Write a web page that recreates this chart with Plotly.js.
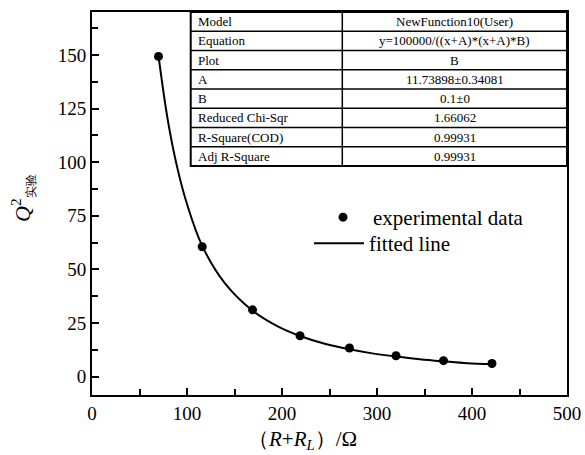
<!DOCTYPE html>
<html><head><meta charset="utf-8">
<script src="https://cdn.plot.ly/plotly-3.0.1.min.js"></script>
<style>html,body{margin:0;padding:0;background:#fff}#chart{width:585px;height:455px}</style>
</head><body><div id="chart"></div>
<script>
const xData = [70, 116, 169, 219, 271, 320, 370, 421];
const yData = [149.3, 60.6, 31.2, 19.1, 13.4, 9.8, 7.5, 6.2];
// fitted curve
const xFit = [70, 80, 90, 100, 116, 140, 169, 195, 219, 245, 271, 295, 320, 345, 370, 395, 421];
const yFit = [149.5, 119, 97, 80.5, 61, 43.5, 30.8, 23.6, 19, 15.4, 12.8, 10.9, 9.4, 8.2, 7.2, 6.3, 5.9];
// parameter table
const tableLabels = ["Model", "Equation", "Plot", "A", "B", "Reduced Chi-Sqr", "R-Square(COD)", "Adj R-Square"];
const tableValues = ["NewFunction10(User)", "y=100000/((x+A)*(x+A)*B)", "B", "11.73898±0.34081", "0.1±0", "1.66062", "0.99931", "0.99931"];
const xTickVals = [0, 100, 200, 300, 400, 500];
const yTickVals = [0, 25, 50, 75, 100, 125, 150];

const W = 585, H = 455, ML = 92, MR = 18, MT = 12, MB = 60;
const PW = W - ML - MR, PH = H - MT - MB;
const px = x => (x - ML) / PW;
const py = y => (H - MB - y) / PH;
const serif = "Liberation Serif";

const traces = [
  {x: xData, y: yData, mode: 'markers', name: 'experimental data', legend: 'legend', marker: {color: '#000', size: 9}},
  {x: xFit, y: yFit, mode: 'lines', name: 'fitted line', legend: 'legend2', line: {color: '#000', width: 2, shape: 'spline'}}
];

// table as shapes + annotations
const tL = 190.7, tM = 342.3, tR = W - MR, tT = MT, tB = 166;
const rowH = (tB - tT) / tableLabels.length;
const shapes = [];
const annotations = [];
shapes.push({type: 'rect', xref: 'paper', yref: 'paper', x0: px(tL), x1: px(tR), y0: py(tB), y1: py(tT), line: {color: '#000', width: 2}, fillcolor: 'rgba(0,0,0,0)'});
shapes.push({type: 'line', xref: 'paper', yref: 'paper', x0: px(tM), x1: px(tM), y0: py(tB), y1: py(tT), line: {color: '#000', width: 1.5}});
for (let i = 1; i < tableLabels.length; i++) {
  const yy = tT + i * rowH;
  shapes.push({type: 'line', xref: 'paper', yref: 'paper', x0: px(tL), x1: px(tR), y0: py(yy), y1: py(yy), line: {color: '#000', width: 1.5}});
}
tableLabels.forEach((lab, i) => {
  const yc = tT + (i + 0.5) * rowH;
  annotations.push({xref: 'paper', yref: 'paper', x: px(tL + 5), y: py(yc), text: lab, showarrow: false, xanchor: 'left', yanchor: 'middle', font: {family: serif, size: 13, color: '#000'}});
  annotations.push({xref: 'paper', yref: 'paper', x: px((tM + tR) / 2), y: py(yc), text: tableValues[i], showarrow: false, xanchor: 'center', yanchor: 'middle', font: {family: serif, size: 13, color: '#000'}});
});
// axis titles
annotations.push({xref: 'paper', yref: 'paper', x: px(302), y: py(440), text: '（<i>R</i>+<i>R</i><sub><i>L</i></sub>）/Ω', showarrow: false, xanchor: 'center', yanchor: 'middle', font: {family: serif, size: 21, color: '#000'}});
annotations.push({xref: 'paper', yref: 'paper', x: px(22), y: py(198), text: '<i>Q</i><sup>2</sup><sub><span style="font-size:12px">实验</span></sub>', textangle: -90, showarrow: false, xanchor: 'center', yanchor: 'middle', font: {family: serif, size: 22, color: '#000'}});

const axisCommon = {
  showline: true, mirror: true, linecolor: '#000', linewidth: 2,
  showgrid: false, zeroline: false, ticks: 'inside', ticklen: 7, tickwidth: 2, tickcolor: '#000',
  tickfont: {family: serif, size: 19, color: '#000'}
};
const legFont = {family: serif, size: 21, color: '#000'};

const layout = {
  width: W, height: H,
  margin: {l: ML, r: MR, t: MT, b: MB, pad: 0},
  paper_bgcolor: '#fff', plot_bgcolor: '#fff',
  showlegend: true,
  legend: {x: px(313), y: py(197), xanchor: 'left', yanchor: 'top', bgcolor: 'rgba(0,0,0,0)', font: legFont, itemwidth: 50},
  legend2: {x: px(309), y: py(223), xanchor: 'left', yanchor: 'top', bgcolor: 'rgba(0,0,0,0)', font: legFont, itemwidth: 50},
  xaxis: Object.assign({}, axisCommon, {range: [0, 500], tickvals: xTickVals, minor: {dtick: 50, tick0: 0, ticks: 'inside', ticklen: 6, tickwidth: 2, tickcolor: '#000'}}),
  yaxis: Object.assign({}, axisCommon, {range: [-8.5, 170], tickvals: yTickVals, minor: {dtick: 12.5, tick0: 0, ticks: 'inside', ticklen: 6, tickwidth: 2, tickcolor: '#000'}}),
  shapes: shapes,
  annotations: annotations
};

Plotly.newPlot('chart', traces, layout, {displayModeBar: false, staticPlot: true});
</script>
</body></html>
